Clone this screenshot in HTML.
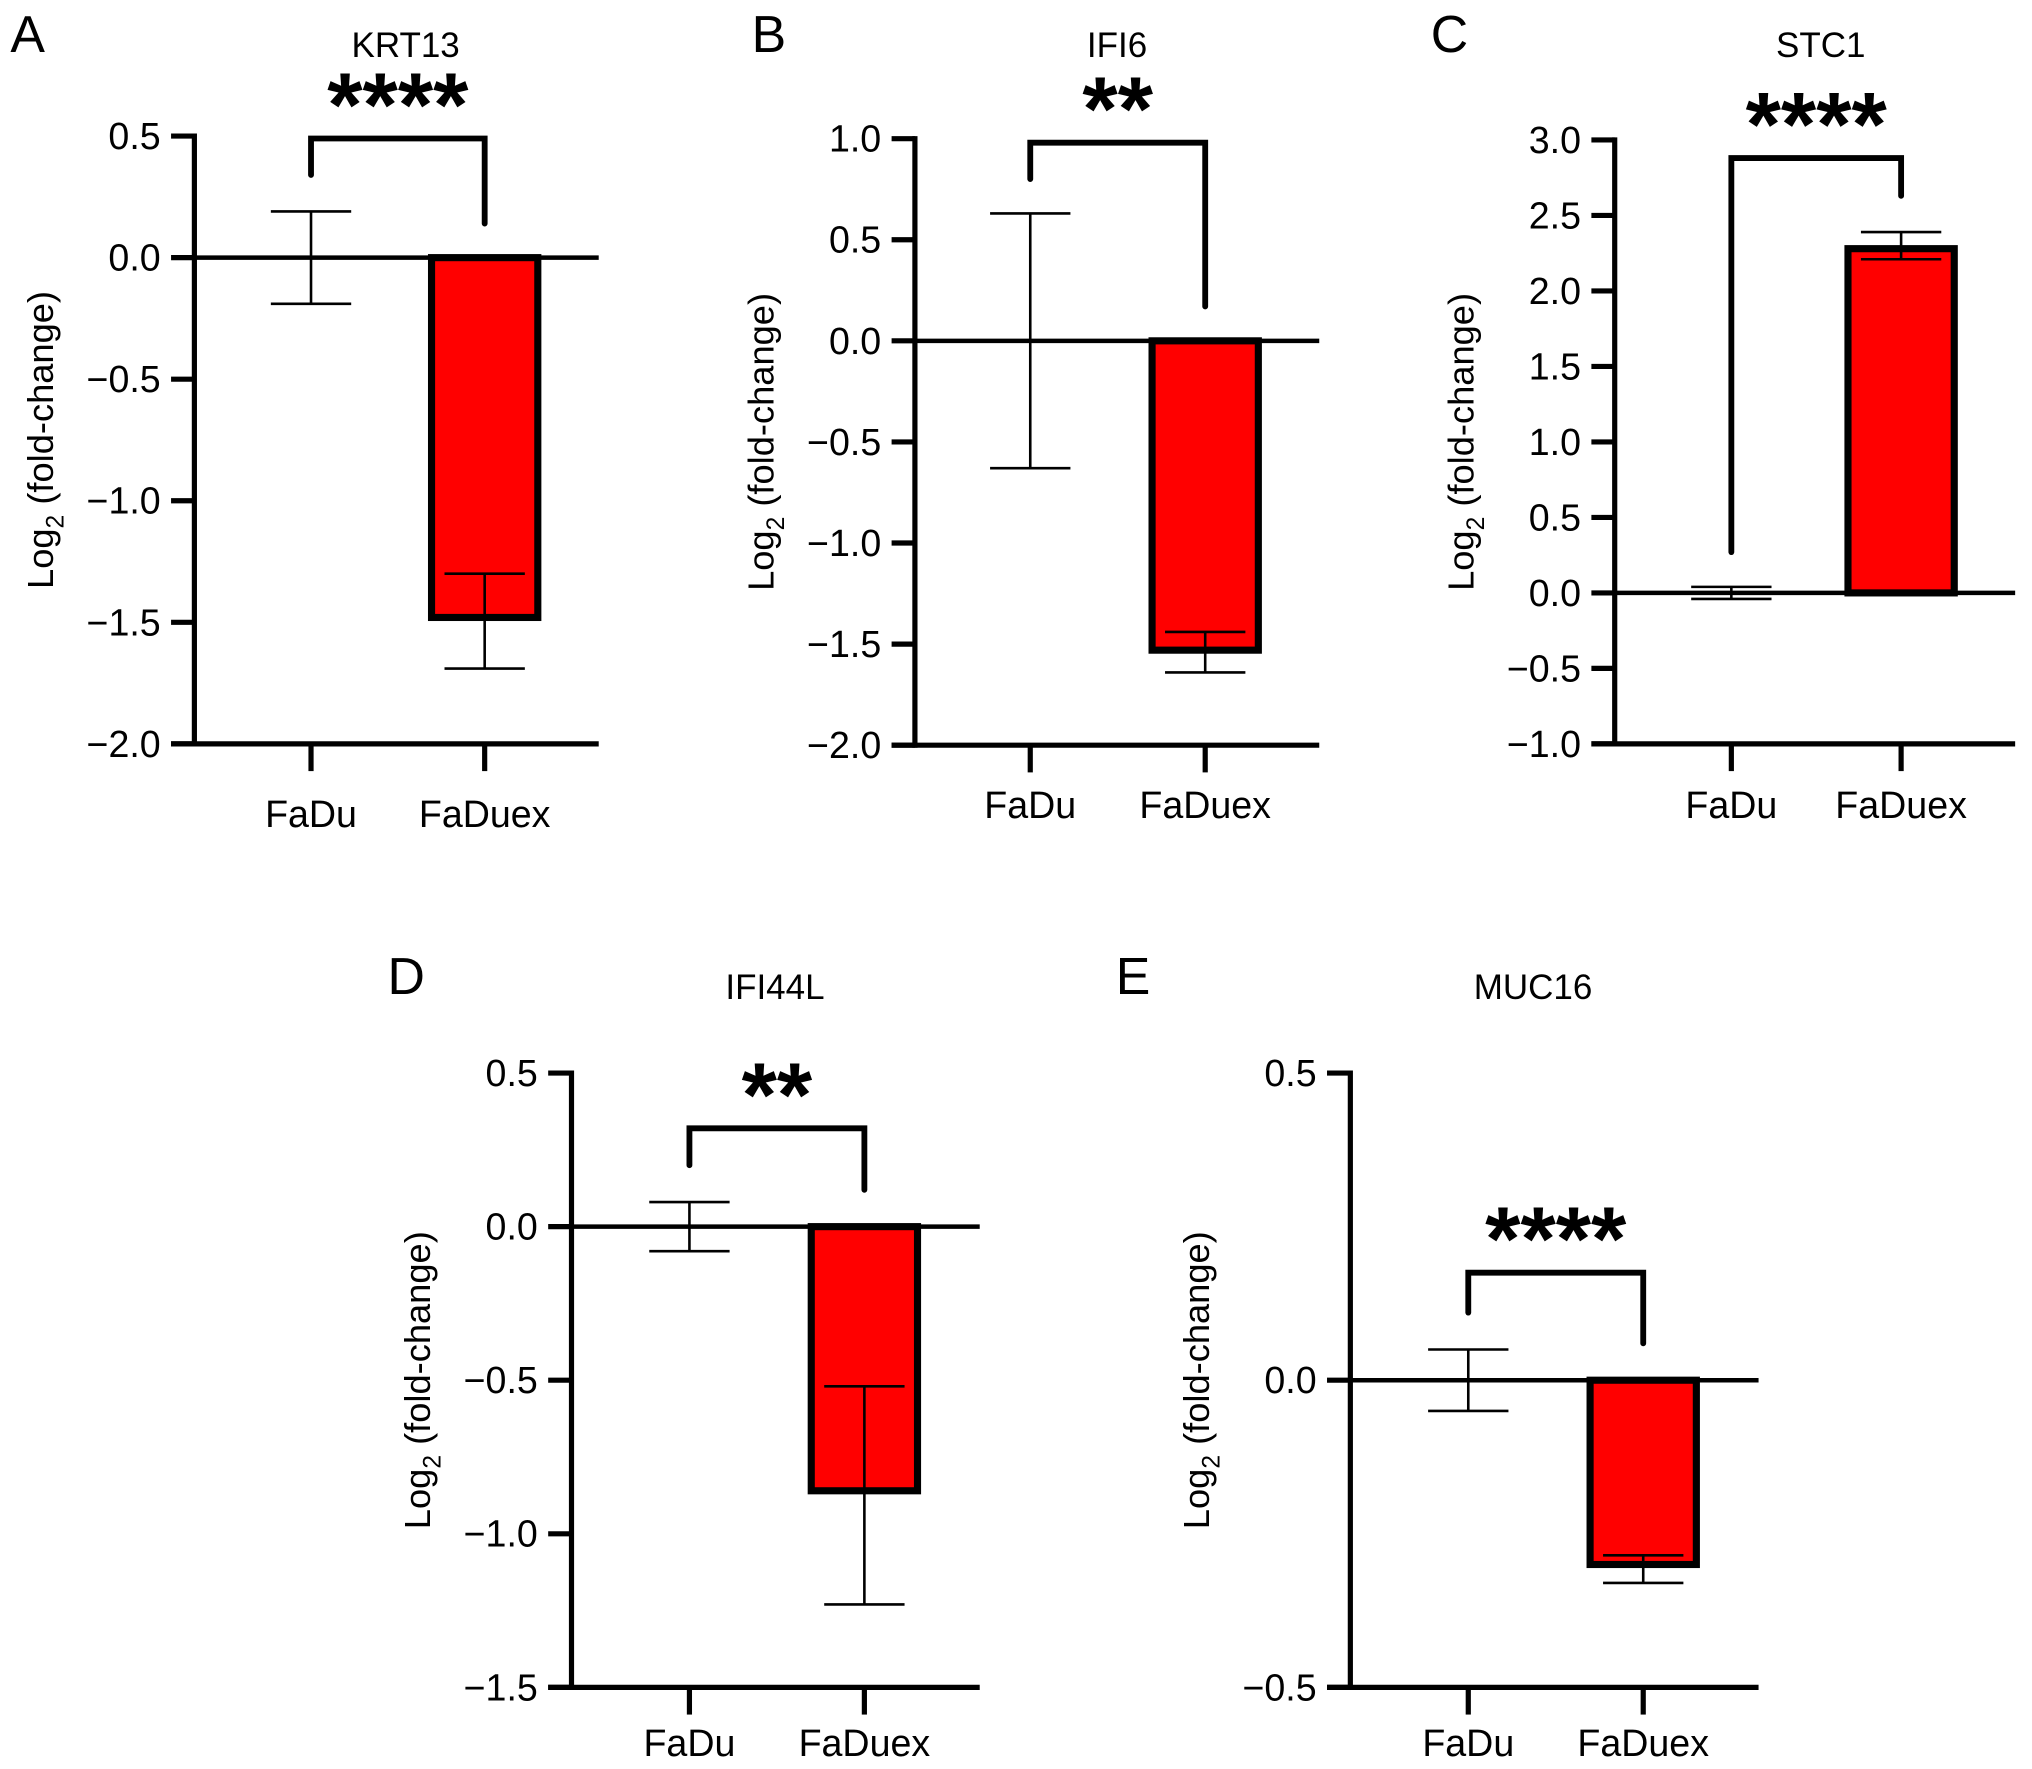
<!DOCTYPE html>
<html><head><meta charset="utf-8"><style>
html,body{margin:0;padding:0;background:#fff;}
svg{display:block;}
text{font-family:"Liberation Sans",Arial,sans-serif;fill:#000;}
</style></head><body>
<svg id="fig" width="2032" height="1769" viewBox="0 0 1568 1365" preserveAspectRatio="none" xmlns="http://www.w3.org/2000/svg"></svg>
<script>
const panelLetters = ["A","B","C","D","E"];
const geneTitles = ["KRT13","IFI6","STC1","IFI44L","MUC16"];
const categories = ["FaDu","FaDuex"];
const fadu = [0, 0, 0, 0, 0];
const faduErr = [0.19, 0.63, 0.04, 0.08, 0.05];
const faduex = [-1.48, -1.53, 2.28, -0.86, -0.30];
const faduexErrLo = [-1.69, -1.64, 2.21, -1.23, -0.33];
const faduexErrHi = [-1.30, -1.44, 2.39, -0.52, -0.285];
const yMin = [-2.0, -2.0, -1.0, -1.5, -0.5];
const yMax = [0.5, 1.0, 3.0, 0.5, 0.5];
const tickStep = [0.5, 0.5, 0.5, 0.5, 0.5];
const sigLabels = ["****","**","****","**","****"];
const bracketVal = [0.49, 0.98, 2.88, 0.32, 0.175];
const bracketLeftDrop = [0.34, 0.80, 0.27, 0.20, 0.11];
const bracketRightDrop = [0.14, 0.17, 2.63, 0.12, 0.06];

// layout (not data)
const layout = [
 {ax:150, top:105, bot:574, right:462, c0:240, c1:374, lx:8, ly:40, tx:313, ty:44, labY:638},
 {ax:706, top:107, bot:575, right:1018, c0:795, c1:930, lx:580, ly:40, tx:862, ty:44, labY:631},
 {ax:1246, top:108, bot:574, right:1555, c0:1336, c1:1467, lx:1104, ly:40, tx:1405, ty:44, labY:631},
 {ax:441, top:828, bot:1302, right:756, c0:532, c1:667, lx:299, ly:767, tx:598, ty:771, labY:1355},
 {ax:1042, top:828, bot:1302, right:1357, c0:1133, c1:1268, lx:861, ly:767, tx:1183, ty:771, labY:1355}
];
const NS = "http://www.w3.org/2000/svg";
const svg = document.getElementById("fig");
function el(tag, attrs, parent, txt){
  const e = document.createElementNS(NS, tag);
  for (const k in attrs) e.setAttribute(k, attrs[k]);
  if (txt !== undefined) e.textContent = txt;
  parent.appendChild(e); return e;
}
function fmt(v){ const s = Math.abs(v).toFixed(1); return v < -1e-9 ? "\u2212" + s : s; }

for (let i = 0; i < 5; i++) {
  const L = layout[i];
  const y = v => L.bot - (v - yMin[i]) / (yMax[i] - yMin[i]) * (L.bot - L.top);
  const g = el("g", {}, svg);
  
  
  const letter = el("text", {x:L.lx, y:L.ly, "font-size":40}, g, panelLetters[i]);
  
  
  const title = el("text", {x:L.tx, y:L.ty, "font-size":27, "text-anchor":"middle"}, g, geneTitles[i]);
  
  
  const cy = (L.top + L.bot)/2, lx = L.ax - 109;
  const yl = el("text", {x:lx, y:cy, "font-size":28, "text-anchor":"middle", transform:`rotate(-90 ${lx} ${cy})`}, g);
  
  
  el("tspan", {}, yl, "Log");
  el("tspan", {"font-size":19, dy:8}, yl, "2");
  el("tspan", {dy:-8}, yl, " (fold-change)");
  const y0 = y(0), yv = y(faduex[i]);
  const bw = 82, bx = L.c1 - bw/2;
  const bar = el("rect", {x:bx, y:Math.min(y0,yv), width:bw, height:Math.abs(yv-y0), fill:"#ff0000", stroke:"#000", "stroke-width":5.5}, g);
  
  
  const yaxis = el("line", {x1:L.ax, x2:L.ax, y1:L.top-2, y2:L.bot+2, stroke:"#000", "stroke-width":4}, g);
  
  
  for (let v = yMin[i]; v <= yMax[i] + 1e-9; v += tickStep[i]) {
    const ty = y(v);
    el("line", {x1:L.ax-18, x2:L.ax, y1:ty, y2:ty, stroke:"#000", "stroke-width":4}, g);
    const tl = el("text", {x:L.ax-26, y:ty+10, "font-size":29, "text-anchor":"end"}, g, fmt(v));
    
    
  }
  const zl = el("line", {x1:L.ax, x2:L.right, y1:y0, y2:y0, stroke:"#000", "stroke-width":3.5}, g);
  
  
  const xa = el("line", {x1:L.ax-18, x2:L.right, y1:L.bot, y2:L.bot, stroke:"#000", "stroke-width":4}, g);
  
  
  [L.c0, L.c1].forEach((cx, k) => {
    el("line", {x1:cx, x2:cx, y1:L.bot, y2:L.bot+21, stroke:"#000", "stroke-width":4}, g);
    const cl = el("text", {x:cx, y:L.labY, "font-size":29, "text-anchor":"middle"}, g, categories[k]);
    
    
  });
  function errBar(cx, lo, hi, name){
    const eg = el("g", {stroke:"#000", "stroke-width":2}, g);
    
    
    el("line", {x1:cx, x2:cx, y1:y(lo), y2:y(hi)}, eg);
    el("line", {x1:cx-31, x2:cx+31, y1:y(lo), y2:y(lo)}, eg);
    el("line", {x1:cx-31, x2:cx+31, y1:y(hi), y2:y(hi)}, eg);
  }
  errBar(L.c0, fadu[i]-faduErr[i], fadu[i]+faduErr[i], 'error-bar-fadu');
  errBar(L.c1, faduexErrLo[i], faduexErrHi[i], 'error-bar-faduex');
  const by = y(bracketVal[i]);
  const br = el("path", {d:`M${L.c0} ${y(bracketLeftDrop[i])} V${by} H${L.c1} V${y(bracketRightDrop[i])}`, fill:"none", stroke:"#000", "stroke-width":4.5, "stroke-linecap":"round"}, g);
  
  
  const st = el("text", {x:(L.c0+L.c1)/2, y:by-2, "font-size":70, "font-weight":"bold", "text-anchor":"middle"}, g, sigLabels[i]);
  
  
}
</script>
</body></html>
